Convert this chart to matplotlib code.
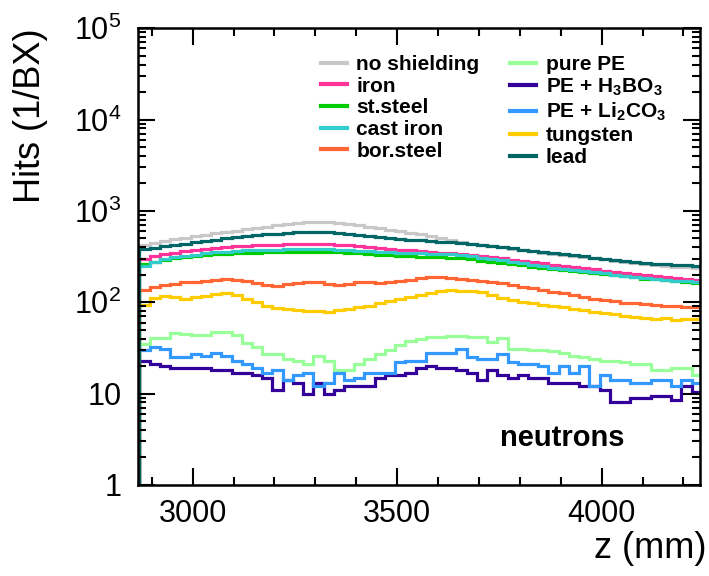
import numpy as np
import matplotlib
matplotlib.use("Agg")
import matplotlib.pyplot as plt
from matplotlib.ticker import MultipleLocator, LogLocator, FuncFormatter

plt.rcParams['font.family'] = ['Liberation Sans', 'DejaVu Sans']
plt.rcParams['mathtext.fontset'] = 'custom'
plt.rcParams['mathtext.rm'] = 'Liberation Sans'
plt.rcParams['mathtext.bf'] = 'Liberation Sans:bold'

# bin edges along z (mm), 25 mm bins
z_edges = np.arange(2870, 4246, 25)

no_shielding = [420, 445, 470, 490, 510, 530, 550, 570, 590, 610, 630,
                650, 670, 695, 715, 735, 750, 760, 755, 740, 720, 700,
                675, 650, 625, 600, 580, 555, 530, 505, 480, 460, 440,
                425, 410, 400, 385, 372, 360, 350, 340, 330, 320, 310,
                302, 294, 285, 277, 270, 263, 257, 251, 246, 241, 237]
iron = [300, 320, 335, 348, 360, 372, 382, 392, 400, 408, 415,
        420, 425, 428, 431, 433, 435, 435, 432, 428, 422, 415,
        405, 395, 385, 377, 372, 365, 358, 350, 343, 335, 326,
        318, 310, 302, 293, 284, 275, 266, 258, 250, 243, 236,
        229, 222, 216, 210, 204, 198, 193, 188, 184, 180, 177]
st_steel = [265, 275, 290, 303, 313, 322, 330, 336, 341, 345, 348,
            350, 352, 354, 355, 356, 357, 357, 355, 352, 348, 343,
            338, 332, 327, 322, 318, 315, 313, 311, 309, 302, 294,
            286, 278, 270, 262, 254, 246, 239, 232, 226, 220, 214,
            208, 202, 197, 192, 187, 182, 178, 174, 170, 166, 162]
cast_iron = [250, 275, 295, 310, 322, 333, 343, 351, 358, 364, 369,
             373, 376, 378, 380, 381, 382, 382, 380, 377, 373, 368,
             363, 358, 353, 348, 345, 342, 340, 338, 335, 328, 318,
             308, 298, 288, 278, 268, 258, 248, 239, 232, 225, 219,
             213, 207, 201, 196, 191, 186, 181, 177, 173, 170, 167]
bor_steel = [136, 148, 155, 160, 168, 168, 172, 175, 178, 175, 170,
             162, 155, 152, 158, 162, 168, 165, 158, 155, 160, 166,
             165, 162, 168, 172, 176, 183, 188, 190, 185, 180, 175,
             170, 165, 161, 155, 148, 142, 136, 130, 125, 120, 115,
             110, 106, 102, 99, 97, 95, 93, 91, 90, 89, 88]
pure_pe = [35, 41, 41, 46, 45, 44, 44, 47, 47, 44, 36,
           32, 27, 27, 24, 23, 21, 26, 23, 18, 18, 21,
           24, 27, 30, 34, 38, 40, 42, 42, 43, 43, 42,
           42, 37, 41, 31, 31, 30, 30, 29, 28, 26, 25,
           24, 23, 23, 22, 21, 21, 18, 18, 19, 19, 16]
pe_h3bo3 = [23, 21, 20, 19, 19, 19, 19, 18, 18, 17, 17,
            16, 15, 11, 14, 13, 10, 13, 10, 11, 12, 12,
            12, 15, 16, 16, 17, 19, 20, 19, 19, 18, 17,
            14, 18, 16, 15, 16, 15, 15, 13, 13, 13, 12,
            12, 11, 8.2, 8.2, 9, 9, 9.4, 9.4, 8.6, 12, 10.5]
pe_li2co3 = [30, 32, 31, 25, 25, 27, 26, 28, 26, 23, 21,
             19, 17, 18, 14, 16, 17, 12, 13, 17, 14, 15,
             17, 17, 17, 22, 23, 23, 28, 28, 28, 31, 25,
             24, 24, 27, 22, 21, 21, 20, 17, 20, 17, 20,
             12, 16, 14, 14, 13, 13, 14, 14, 12, 14, 13]
tungsten = [93, 112, 118, 115, 108, 114, 118, 122, 126, 120, 110,
            100, 92, 87, 85, 83, 81, 80, 79, 82, 85, 88,
            92, 97, 102, 108, 113, 120, 126, 133, 135, 134, 132,
            128, 120, 112, 106, 100, 97, 93, 90, 88, 85, 82,
            79, 77, 74, 71, 69, 67, 65, 67, 64, 66, 65]
lead = [380, 395, 410, 425, 440, 455, 470, 485, 500, 515, 530,
        545, 555, 565, 575, 585, 590, 592, 585, 575, 560, 545,
        530, 515, 505, 495, 485, 475, 465, 458, 455, 450, 440,
        425, 410, 398, 388, 378, 368, 358, 348, 338, 328, 318,
        308, 298, 290, 283, 276, 270, 265, 260, 256, 253, 251]

series = [
    ("no shielding", no_shielding, "#c8c8c8"),
    ("iron", iron, "#ff3399"),
    ("st.steel", st_steel, "#00cc00"),
    ("cast iron", cast_iron, "#33cccc"),
    ("bor.steel", bor_steel, "#ff6633"),
    ("pure PE", pure_pe, "#99ff99"),
    (r"PE + H$_\mathbf{3}$BO$_\mathbf{3}$", pe_h3bo3, "#330099"),
    (r"PE + Li$_\mathbf{2}$CO$_\mathbf{3}$", pe_li2co3, "#3399ff"),
    ("tungsten", tungsten, "#ffcc00"),
    ("lead", lead, "#006666"),
]

fig = plt.figure(figsize=(7.09, 5.76), dpi=100)
ax = fig.add_axes([0.195, 0.158, 0.792, 0.793])

for name, vals, col in series:
    ax.stairs(vals, z_edges, baseline=0.5, color=col, lw=2.3, label=name)

ax.set_yscale('log')
ax.set_ylim(1, 1e5)
ax.set_xlim(2867, 4240)

ax.xaxis.set_major_locator(MultipleLocator(500))
ax.xaxis.set_minor_locator(MultipleLocator(100))
ax.yaxis.set_major_locator(LogLocator(base=10, numticks=10))
ax.yaxis.set_minor_locator(LogLocator(base=10, subs=np.arange(2, 10), numticks=10))


def ylab(v, pos):
    if v < 1.5:
        return "1"
    if v < 15:
        return "10"
    return r"$\mathregular{10^{%d}}$" % round(np.log10(v))


ax.yaxis.set_major_formatter(FuncFormatter(ylab))
ax.tick_params(which='both', direction='in', top=True, right=True, width=1.5)
ax.tick_params(which='major', length=12, labelsize=22)
ax.tick_params(axis='x', which='major', pad=10)
ax.tick_params(axis='y', which='major', pad=12)
ax.tick_params(which='minor', length=6)
for sp in ax.spines.values():
    sp.set_linewidth(1.8)

ax.set_ylabel("Hits (1/BX)", fontsize=26, loc='top')
ax.yaxis.set_label_coords(-0.16, 1.0)
ax.set_xlabel("z (mm)", fontsize=26, loc='right')
ax.xaxis.set_label_coords(1.012, -0.1)

ax.text(0.644, 0.103, "neutrons", transform=ax.transAxes, fontsize=21,
        fontweight='bold', ha='left', va='center')

leg = ax.legend(ncol=2, frameon=False, loc='upper left',
                bbox_to_anchor=(0.31, 0.96), prop={'weight': 'bold', 'size': 15},
                handlelength=1.25, handletextpad=0.45, columnspacing=1.5,
                labelspacing=0.13, borderaxespad=0)
for h in leg.get_lines():
    h.set_linewidth(3)

fig.savefig("out.png", dpi=100)
